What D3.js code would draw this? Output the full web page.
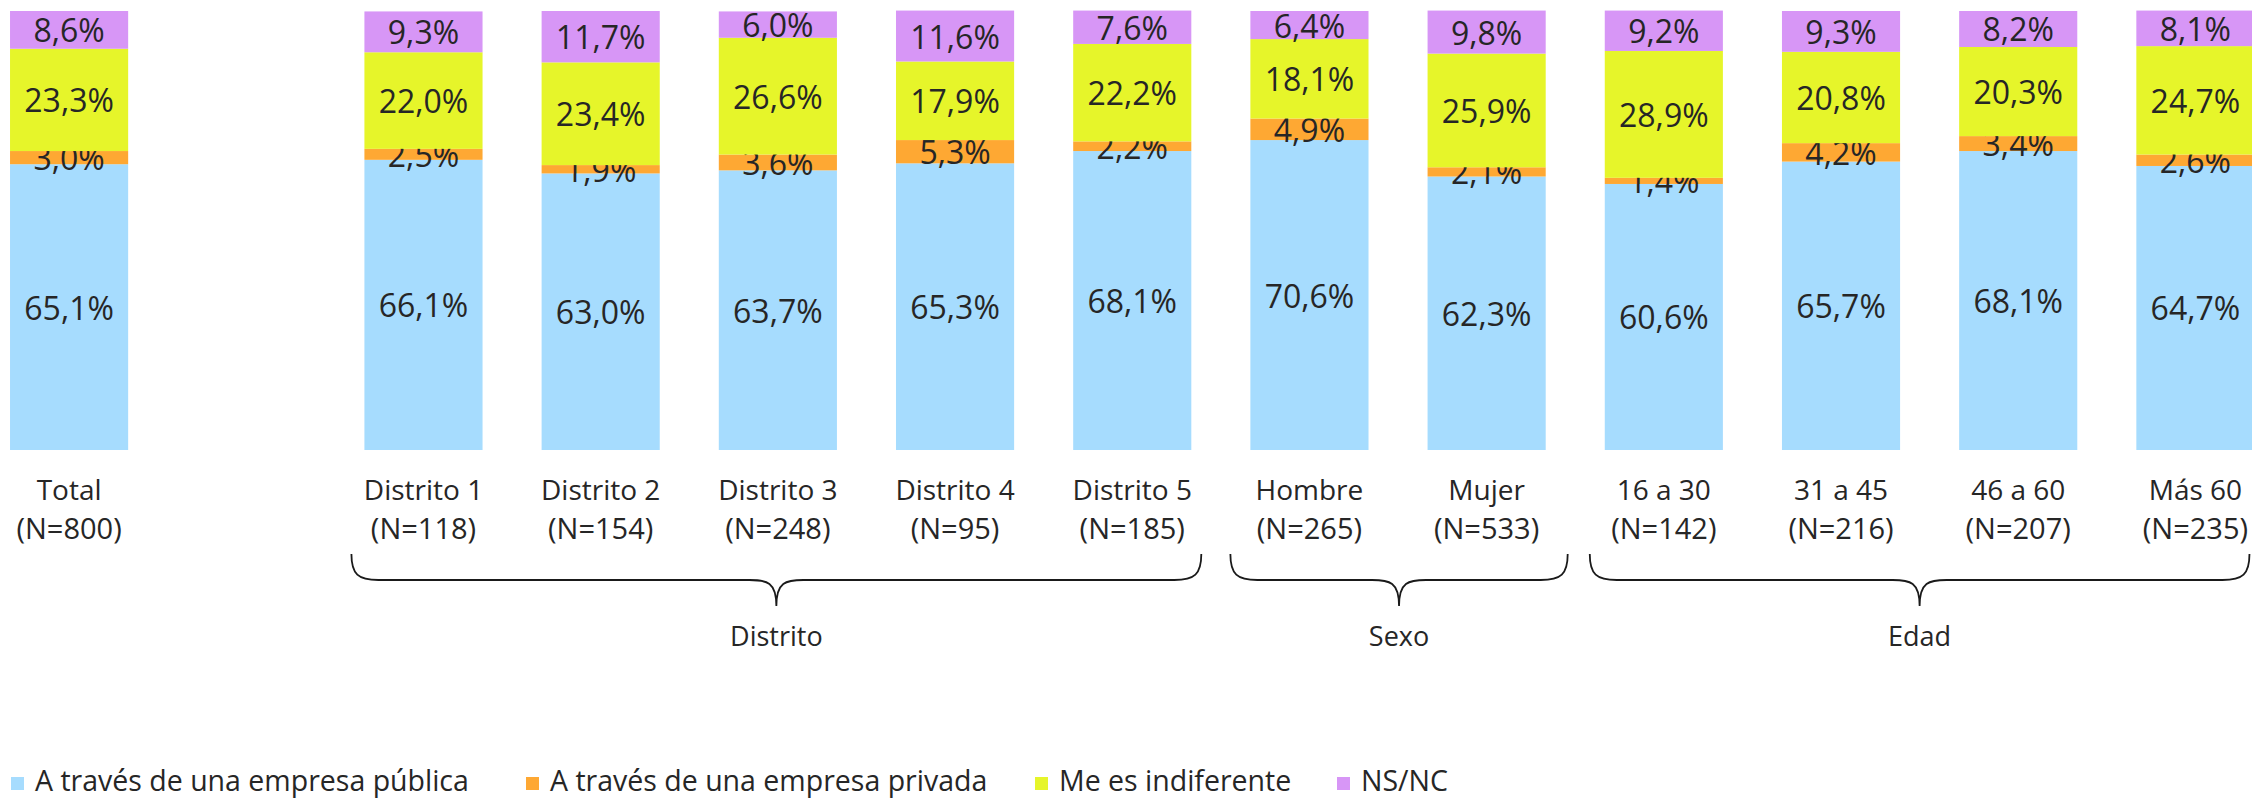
<!DOCTYPE html>
<html>
<head>
<meta charset="utf-8">
<script src="https://cdn.jsdelivr.net/npm/d3@7"></script>
<style>
  html, body { margin: 0; padding: 0; background: #ffffff; overflow: hidden; }
  svg { display: block; }
  text { font-family: "Century Gothic", "Open Sans", "DejaVu Sans", sans-serif; fill: #262626; }
</style>
</head>
<body>
<svg id="chart" width="2252" height="799"></svg>
<script>
// Categories (empty string = spacer slot between Total and the districts)
const categories = ["Total", "", "Distrito 1", "Distrito 2", "Distrito 3", "Distrito 4", "Distrito 5",
                    "Hombre", "Mujer", "16 a 30", "31 a 45", "46 a 60", "Más 60"];
const sampleSizes = ["(N=800)", "", "(N=118)", "(N=154)", "(N=248)", "(N=95)", "(N=185)",
                     "(N=265)", "(N=533)", "(N=142)", "(N=216)", "(N=207)", "(N=235)"];

// Series values (%), one per category
const seriesNames = ["A través de una empresa pública", "A través de una empresa privada",
                     "Me es indiferente", "NS/NC"];
const publica     = [65.1, null, 66.1, 63.0, 63.7, 65.3, 68.1, 70.6, 62.3, 60.6, 65.7, 68.1, 64.7];
const privada     = [3.0,  null, 2.5,  1.9,  3.6,  5.3,  2.2,  4.9,  2.1,  1.4,  4.2,  3.4,  2.6];
const indiferente = [23.3, null, 22.0, 23.4, 26.6, 17.9, 22.2, 18.1, 25.9, 28.9, 20.8, 20.3, 24.7];
const nsnc        = [8.6,  null, 9.3,  11.7, 6.0,  11.6, 7.6,  6.4,  9.8,  9.2,  9.3,  8.2,  8.1];

const seriesColors = ["#a6dcfe", "#fea833", "#e6f52a", "#d796f6"];

// Group brackets under the category labels
const groups = [
  { name: "Distrito", first: "Distrito 1", last: "Distrito 5" },
  { name: "Sexo",     first: "Hombre",     last: "Mujer" },
  { name: "Edad",     first: "16 a 30",    last: "Más 60" }
];

const svg = d3.select("#chart");

const x = d3.scaleBand()
  .domain(d3.range(categories.length))
  .range([-19.5, 2284])
  .paddingInner(1 / 3)
  .paddingOuter(1 / 6);

const y = d3.scaleLinear().domain([0, 100]).range([450, 11]);

const rows = categories.map((c, i) => ({
  i, cat: c, n: sampleSizes[i],
  publica: publica[i], privada: privada[i], indiferente: indiferente[i], nsnc: nsnc[i]
})).filter(d => d.publica != null);

const keys = ["publica", "privada", "indiferente", "nsnc"];
const stacked = d3.stack().keys(keys)(rows);

const layers = svg.append("g").selectAll("g.layer")
  .data(stacked)
  .join("g")
  .attr("class", "layer")
  .attr("fill", (d, k) => seriesColors[k]);

layers.selectAll("rect")
  .data(d => d)
  .join("rect")
  .attr("x", d => x(d.data.i))
  .attr("width", x.bandwidth())
  .attr("y", d => y(d[1]))
  .attr("height", d => y(d[0]) - y(d[1]));

// Value labels centred on each segment
const fmt = v => v.toFixed(1).replace(".", ",") + "%";
layers.selectAll("text")
  .data(d => d.map(s => ({ s, key: d.key })))
  .join("text")
  .attr("x", d => x(d.s.data.i) + x.bandwidth() / 2)
  .attr("y", d => (y(d.s[0]) + y(d.s[1])) / 2)
  .attr("text-anchor", "middle")
  .attr("dominant-baseline", "central")
  .attr("font-size", 32)
  .text(d => fmt(d.s.data[d.key]));

// Category labels (two lines)
const catG = svg.append("g");
rows.forEach(d => {
  const cx = x(d.i) + x.bandwidth() / 2;
  catG.append("text").attr("x", cx).attr("y", 489).attr("text-anchor", "middle")
    .attr("dominant-baseline", "central").attr("font-size", 28).text(d.cat);
  catG.append("text").attr("x", cx).attr("y", 527).attr("text-anchor", "middle")
    .attr("dominant-baseline", "central").attr("font-size", 29).text(d.n);
});

// Curly brackets spanning each group
const bTop = 554, bMid = 580, bTip = 606, r = 27;
const bracketPad = { "Distrito": [-13, 10], "Sexo": [-20, 22], "Edad": [-15, -5] };
groups.forEach(g => {
  const i0 = categories.indexOf(g.first), i1 = categories.indexOf(g.last);
  const x0 = x(i0) + bracketPad[g.name][0];
  const x1 = x(i1) + x.bandwidth() + bracketPad[g.name][1];
  const xm = (x0 + x1) / 2;
  const p = d3.path();
  p.moveTo(x0, bTop);
  p.bezierCurveTo(x0, bTop + r * 0.75, x0 + r * 0.25, bMid, x0 + r, bMid);
  p.lineTo(xm - r, bMid);
  p.bezierCurveTo(xm - r * 0.35, bMid, xm, bMid + 2, xm, bTip);
  p.bezierCurveTo(xm, bMid + 2, xm + r * 0.35, bMid, xm + r, bMid);
  p.lineTo(x1 - r, bMid);
  p.bezierCurveTo(x1 - r * 0.25, bMid, x1, bTop + r * 0.75, x1, bTop);
  svg.append("path").attr("d", p.toString())
    .attr("fill", "none").attr("stroke", "#1a1a1a").attr("stroke-width", 1.8);
  svg.append("text").attr("x", xm).attr("y", 635).attr("text-anchor", "middle")
    .attr("dominant-baseline", "central").attr("font-size", 27).text(g.name);
});

// Legend along the bottom edge
const legendX = [11, 526, 1035, 1337];
const legend = svg.append("g");
seriesNames.forEach((name, k) => {
  legend.append("rect").attr("x", legendX[k]).attr("y", 777).attr("width", 13).attr("height", 13)
    .attr("fill", seriesColors[k]);
  legend.append("text").attr("x", legendX[k] + 24).attr("y", 791).attr("font-size", 28.5).text(name);
});
</script>
</body>
</html>
